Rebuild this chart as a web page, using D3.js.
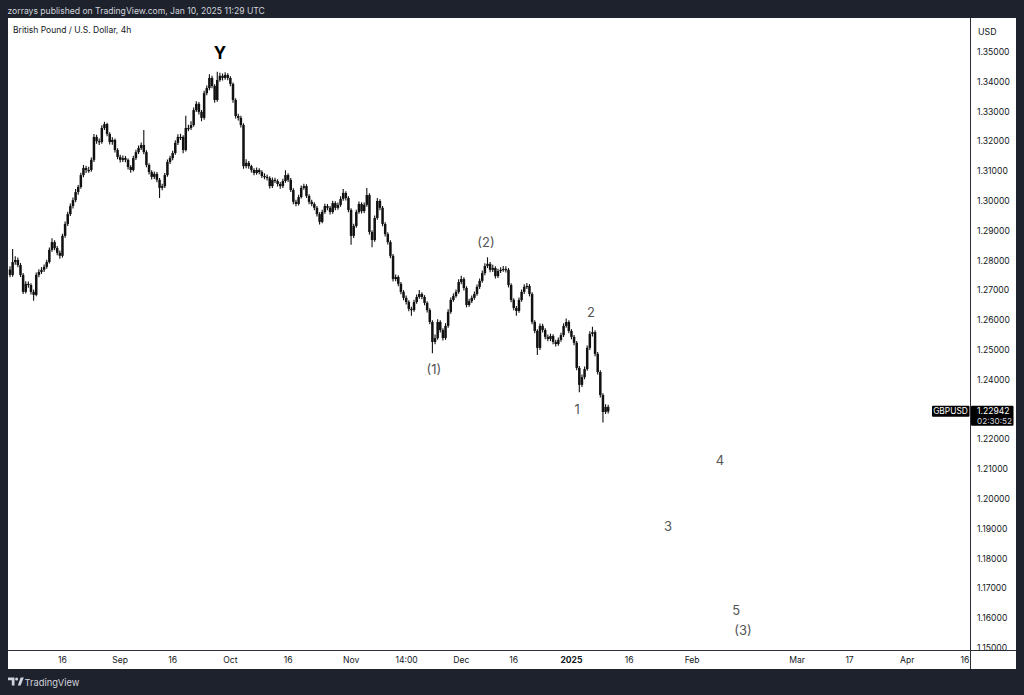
<!DOCTYPE html>
<html>
<head>
<meta charset="utf-8">
<script src="https://cdn.jsdelivr.net/npm/d3@7"></script>
<style>
  html,body{margin:0;padding:0;background:#1e222d;}
  svg{display:block;}
  text{font-family:Inter, "Noto Sans", Roboto, sans-serif;}
</style>
</head>
<body>
<svg id="chart" width="1024" height="695"></svg>
<script>
// ---------------- DATA ----------------
const title = "British Pound / U.S. Dollar, 4h";
const headerText = "zorrays published on TradingView.com, Jan 10, 2025 11:29 UTC";
const symbol = "GBPUSD";
const lastPrice = "1.22942";
const countdown = "02:30:52";
const startDate = "2024-08-02";
const holidays = ["2024-12-25"];
const firstOpen = 1.2770;

// 12h bars (two per trading day), close / high / low
const closes = [
1.2752,1.2795,1.2802,1.2785,1.2752,1.2695,1.2722,1.2718,1.2695,1.2685,
1.2752,1.2762,1.2769,1.2779,1.2795,1.2836,1.2862,1.2842,1.2826,1.2816,
1.2883,1.2923,1.2956,1.2983,1.3003,1.3030,1.3047,1.3087,1.3111,1.3104,
1.3104,1.3138,1.3215,1.3201,1.3198,1.3245,1.3258,1.3225,1.3198,1.3205,
1.3171,1.3148,1.3138,1.3144,1.3138,1.3114,1.3104,1.3144,1.3164,1.3178,
1.3188,1.3164,1.3121,1.3097,1.3081,1.3091,1.3071,1.3044,1.3050,1.3087,
1.3131,1.3144,1.3161,1.3195,1.3215,1.3215,1.3171,1.3245,1.3245,1.3255,
1.3305,1.3326,1.3299,1.3279,1.3362,1.3379,1.3413,1.3386,1.3339,1.3406,
1.3420,1.3413,1.3423,1.3413,1.3393,1.3339,1.3285,1.3279,1.3255,1.3117,
1.3128,1.3117,1.3104,1.3094,1.3104,1.3097,1.3084,1.3081,1.3077,1.3050,
1.3071,1.3067,1.3057,1.3050,1.3067,1.3087,1.3071,1.3037,1.2997,1.2990,
1.3013,1.3044,1.3050,1.3017,1.2997,1.2990,1.2977,1.2956,1.2930,1.2963,
1.2983,1.2977,1.2963,1.2993,1.2977,1.2987,1.3007,1.3027,1.3010,1.2970,
1.2883,1.2916,1.2963,1.2990,1.2966,1.2987,1.3020,1.2896,1.2869,1.2943,
1.3000,1.2977,1.2923,1.2889,1.2862,1.2816,1.2738,1.2745,1.2722,1.2695,
1.2675,1.2661,1.2638,1.2634,1.2661,1.2678,1.2688,1.2678,1.2658,1.2634,
1.2594,1.2527,1.2540,1.2594,1.2567,1.2540,1.2581,1.2628,1.2668,1.2681,
1.2695,1.2728,1.2738,1.2708,1.2651,1.2664,1.2675,1.2688,1.2712,1.2732,
1.2758,1.2782,1.2789,1.2769,1.2775,1.2748,1.2765,1.2769,1.2772,1.2769,
1.2718,1.2668,1.2641,1.2631,1.2668,1.2695,1.2712,1.2715,1.2688,1.2594,
1.2564,1.2507,1.2581,1.2567,1.2544,1.2537,1.2547,1.2527,1.2520,1.2534,
1.2550,1.2581,1.2594,1.2564,1.2544,1.2524,1.2440,1.2383,1.2409,1.2436,
1.2507,1.2554,1.2560,1.2487,1.2426,1.2349,1.2292,1.2309,1.2294
];
const highs = [
1.2781,1.2839,1.2815,1.2810,1.2792,1.2758,1.2731,1.2730,1.2724,1.2703,
1.2760,1.2771,1.2778,1.2787,1.2803,1.2844,1.2875,1.2868,1.2849,1.2834,
1.2890,1.2931,1.2964,1.2992,1.3012,1.3040,1.3054,1.3095,1.3121,1.3118,
1.3115,1.3146,1.3225,1.3222,1.3210,1.3254,1.3266,1.3263,1.3231,1.3214,
1.3210,1.3177,1.3155,1.3153,1.3151,1.3143,1.3120,1.3152,1.3172,1.3186,
1.3196,1.3238,1.3170,1.3127,1.3103,1.3099,1.3097,1.3077,1.3058,1.3094,
1.3139,1.3152,1.3169,1.3204,1.3224,1.3226,1.3221,1.3286,1.3256,1.3268,
1.3314,1.3335,1.3332,1.3305,1.3370,1.3388,1.3425,1.3420,1.3392,1.3434,
1.3430,1.3428,1.3432,1.3429,1.3419,1.3398,1.3345,1.3293,1.3286,1.3261,
1.3140,1.3134,1.3122,1.3110,1.3112,1.3110,1.3103,1.3093,1.3089,1.3083,
1.3079,1.3078,1.3073,1.3064,1.3075,1.3103,1.3093,1.3077,1.3043,1.3004,
1.3021,1.3052,1.3058,1.3056,1.3023,1.3004,1.2996,1.2983,1.2962,1.2971,
1.2991,1.2990,1.2983,1.3001,1.2999,1.2995,1.3016,1.3040,1.3033,1.3016,
1.2976,1.2924,1.2971,1.2998,1.2996,1.2995,1.3044,1.3026,1.2902,1.2951,
1.3010,1.3006,1.2983,1.2929,1.2895,1.2868,1.2822,1.2753,1.2751,1.2728,
1.2701,1.2683,1.2667,1.2645,1.2669,1.2686,1.2701,1.2694,1.2684,1.2664,
1.2640,1.2600,1.2552,1.2603,1.2600,1.2573,1.2590,1.2637,1.2676,1.2690,
1.2703,1.2737,1.2749,1.2744,1.2714,1.2672,1.2683,1.2696,1.2720,1.2740,
1.2767,1.2791,1.2811,1.2795,1.2786,1.2781,1.2773,1.2778,1.2782,1.2781,
1.2775,1.2724,1.2674,1.2648,1.2676,1.2703,1.2721,1.2725,1.2721,1.2694,
1.2600,1.2570,1.2589,1.2588,1.2573,1.2552,1.2555,1.2553,1.2534,1.2542,
1.2558,1.2590,1.2606,1.2600,1.2570,1.2550,1.2530,1.2446,1.2418,1.2445,
1.2515,1.2563,1.2578,1.2566,1.2493,1.2432,1.2355,1.2318,1.2316
];
const lows = [
1.2744,1.2746,1.2786,1.2778,1.2745,1.2688,1.2690,1.2709,1.2686,1.2665,
1.2680,1.2744,1.2755,1.2762,1.2773,1.2790,1.2830,1.2835,1.2818,1.2806,
1.2810,1.2877,1.2916,1.2950,1.2975,1.2996,1.3021,1.3041,1.3080,1.3094,
1.3095,1.3098,1.3131,1.3192,1.3188,1.3192,1.3238,1.3217,1.3190,1.3189,
1.3163,1.3140,1.3129,1.3131,1.3130,1.3106,1.3095,1.3099,1.3138,1.3158,
1.3171,1.3157,1.3113,1.3089,1.3072,1.3074,1.3063,1.3010,1.3036,1.3044,
1.3081,1.3124,1.3137,1.3155,1.3188,1.3205,1.3160,1.3166,1.3234,1.3238,
1.3249,1.3299,1.3290,1.3268,1.3273,1.3355,1.3372,1.3378,1.3330,1.3333,
1.3400,1.3404,1.3407,1.3405,1.3385,1.3330,1.3277,1.3270,1.3247,1.3108,
1.3110,1.3108,1.3096,1.3086,1.3088,1.3090,1.3077,1.3073,1.3069,1.3042,
1.3044,1.3060,1.3049,1.3041,1.3044,1.3061,1.3064,1.3030,1.2989,1.2982,
1.2985,1.3008,1.3038,1.3010,1.2989,1.2982,1.2969,1.2948,1.2921,1.2925,
1.2957,1.2969,1.2955,1.2957,1.2969,1.2971,1.2981,1.3001,1.3002,1.2962,
1.2853,1.2876,1.2910,1.2957,1.2958,1.2960,1.2981,1.2888,1.2845,1.2863,
1.2937,1.2969,1.2915,1.2881,1.2854,1.2808,1.2730,1.2731,1.2714,1.2687,
1.2667,1.2653,1.2630,1.2615,1.2628,1.2655,1.2672,1.2670,1.2650,1.2626,
1.2586,1.2489,1.2519,1.2534,1.2559,1.2532,1.2534,1.2575,1.2622,1.2662,
1.2675,1.2689,1.2721,1.2700,1.2643,1.2645,1.2658,1.2669,1.2682,1.2705,
1.2726,1.2751,1.2775,1.2761,1.2762,1.2740,1.2742,1.2758,1.2763,1.2760,
1.2710,1.2660,1.2633,1.2615,1.2625,1.2662,1.2688,1.2705,1.2680,1.2586,
1.2556,1.2483,1.2500,1.2559,1.2536,1.2529,1.2530,1.2519,1.2512,1.2514,
1.2528,1.2544,1.2575,1.2556,1.2536,1.2516,1.2432,1.2358,1.2376,1.2402,
1.2430,1.2500,1.2545,1.2479,1.2418,1.2341,1.2257,1.2285,1.2287
];

// time axis tick labels
const tickDates  = ["2024-08-16","2024-09-02","2024-09-16","2024-10-01","2024-10-16","2024-11-01","2024-11-15T14","2024-12-02","2024-12-16","2025-01-01","2025-01-16","2025-02-03","2025-03-03","2025-03-17","2025-04-01","2025-04-16"];
const tickLabels = ["16","Sep","16","Oct","16","Nov","14:00","Dec","16","2025","16","Feb","Mar","17","Apr","16"];

// Elliott wave annotations
const waveLabels = ["Y","(2)","(1)","1","2","3","4","5","(3)"];
const waveDates  = ["2024-09-27T00","2024-12-06T17","2024-11-22T19","2025-01-02T02","2025-01-06T17","2025-01-27T10","2025-02-10T07","2025-02-13T10","2025-02-14T17"];
const wavePrices = [1.3497,1.2862,1.2436,1.2302,1.2628,1.1909,1.2131,1.1628,1.1560];

// ---------------- HELPERS ----------------
const DAY = 86400000;
function parseD(s){ const [d,h] = s.split("T"); const [yy,m,dd] = d.split("-").map(Number); return {ms: Date.UTC(yy,m-1,dd), h: h?Number(h):0}; }
const startMs = parseD(startDate).ms;
const holidaySet = new Set(holidays.map(s=>parseD(s).ms));
function isTradingDay(ms){ const wd = new Date(ms).getUTCDay(); return wd!==0 && wd!==6 && !holidaySet.has(ms); }
function tIndex(s){ const p = parseD(s); let n=0; for(let ms=startMs; ms<p.ms; ms+=DAY){ if(isTradingDay(ms)) n++; } return n + p.h/24; }

// bar time index: two bars per trading day
const barT = [];
for(let ms=startMs; barT.length<closes.length; ms+=DAY){ if(isTradingDay(ms)){ const n=tIndex(new Date(ms).toISOString().slice(0,10)); barT.push(n); if(barT.length<closes.length) barT.push(n+0.5);} }
const bars = closes.map((c,i)=>({t:barT[i], o: i===0?firstOpen:closes[i-1], h:highs[i], l:lows[i], c}));

// ---------------- LAYOUT ----------------
const W=1024,H=695;
const panel={x:8,y:18,r:1016,b:669};
const axisX=970.5, axisY=650.5;
const x = d3.scaleLinear().domain([0,182]).range([10,965]);
const y = d3.scaleLinear().domain([1.15,1.35]).range([648,52]);

const svg=d3.select("#chart");
svg.append("rect").attr("width",W).attr("height",H).attr("fill","#1e222d");
svg.append("text").attr("x",7.5).attr("y",14).attr("fill","#d1d4dc").attr("font-size",8.6).text(headerText);
svg.append("rect").attr("x",panel.x).attr("y",panel.y).attr("width",panel.r-panel.x).attr("height",panel.b-panel.y).attr("fill","#ffffff");

svg.append("defs").append("clipPath").attr("id","plotclip").append("rect")
  .attr("x",panel.x).attr("y",panel.y).attr("width",axisX-panel.x).attr("height",axisY-panel.y);

const plot=svg.append("g").attr("clip-path","url(#plotclip)");
// wicks
plot.append("g").selectAll("line").data(bars).join("line")
  .attr("x1",d=>x(d.t)).attr("x2",d=>x(d.t))
  .attr("y1",d=>y(d.h)).attr("y2",d=>y(d.l))
  .attr("stroke","#111").attr("stroke-width",1.1);
// bodies
const bw=2.5;
plot.append("g").selectAll("rect").data(bars).join("rect")
  .attr("x",d=>x(d.t)-bw/2).attr("width",bw)
  .attr("y",d=>y(Math.max(d.o,d.c)))
  .attr("height",d=>Math.max(1.2,Math.abs(y(d.o)-y(d.c))))
  .attr("fill","#111");

// title
svg.append("text").attr("x",13).attr("y",33).attr("fill","#131722").attr("font-size",8.5).text(title);

// wave labels
const wg=svg.append("g");
waveLabels.forEach((lab,i)=>{
  const isY = lab==="Y";
  wg.append("text").attr("x",x(tIndex(waveDates[i]))).attr("y",y(wavePrices[i]))
    .attr("text-anchor","middle").attr("dominant-baseline","central")
    .attr("font-size",isY?17:13).attr("font-weight",isY?700:400)
    .attr("fill",isY?"#000":"#555")
    .text(lab);
});

// price axis
const pt = y.ticks(20);
svg.append("g").selectAll("text").data(pt).join("text")
  .attr("x",977).attr("y",d=>y(d)).attr("dominant-baseline","central")
  .attr("font-size",8.6).attr("fill","#131722").text(d=>d3.format(".5f")(d));
svg.append("text").attr("x",978).attr("y",31).attr("dominant-baseline","central").attr("font-size",8.8).attr("fill","#131722").text("USD");

// time axis labels
svg.append("g").selectAll("text").data(tickLabels).join("text")
  .attr("x",(d,i)=>x(tIndex(tickDates[i]))).attr("y",660).attr("text-anchor","middle").attr("dominant-baseline","central")
  .attr("font-size",8.6).attr("font-weight",d=>d==="2025"?700:400).attr("fill","#131722").text(d=>d);

// axis separator lines
svg.append("line").attr("x1",axisX).attr("x2",axisX).attr("y1",panel.y).attr("y2",panel.b).attr("stroke","#2a2e39").attr("stroke-width",1);
svg.append("line").attr("x1",panel.x).attr("x2",panel.r).attr("y1",axisY).attr("y2",axisY).attr("stroke","#2a2e39").attr("stroke-width",1);

// last price labels
const ly = y(+lastPrice);
svg.append("rect").attr("x",932).attr("y",ly-5.5).attr("width",37.5).attr("height",11).attr("fill","#000").attr("rx",1);
svg.append("text").attr("x",950.5).attr("y",ly).attr("text-anchor","middle").attr("dominant-baseline","central").attr("font-size",8.4).attr("fill","#fff").text(symbol);
svg.append("rect").attr("x",971).attr("y",ly-5.5).attr("width",42.5).attr("height",20).attr("fill","#000").attr("rx",1);
svg.append("text").attr("x",977).attr("y",ly).attr("dominant-baseline","central").attr("font-size",8.6).attr("fill","#fff").text(lastPrice);
svg.append("text").attr("x",977).attr("y",ly+9.5).attr("dominant-baseline","central").attr("font-size",8.2).attr("fill","#d1d4dc").text(countdown);

// footer logo
const fg=svg.append("g").attr("transform","translate(8,677.5)");
fg.append("path").attr("d","M0,0 H6.5 V8 H3.8 V2.8 H0 Z").attr("fill","#d1d4dc");
fg.append("circle").attr("cx",8.6).attr("cy",1.5).attr("r",1.5).attr("fill","#d1d4dc");
fg.append("path").attr("d","M9.8,8 L12.6,0 H15.8 L12.6,8 Z").attr("fill","#d1d4dc");
svg.append("text").attr("x",24.5).attr("y",682).attr("dominant-baseline","central").attr("font-size",9.3).attr("fill","#d1d4dc").text("TradingView");
</script>
</body>
</html>
